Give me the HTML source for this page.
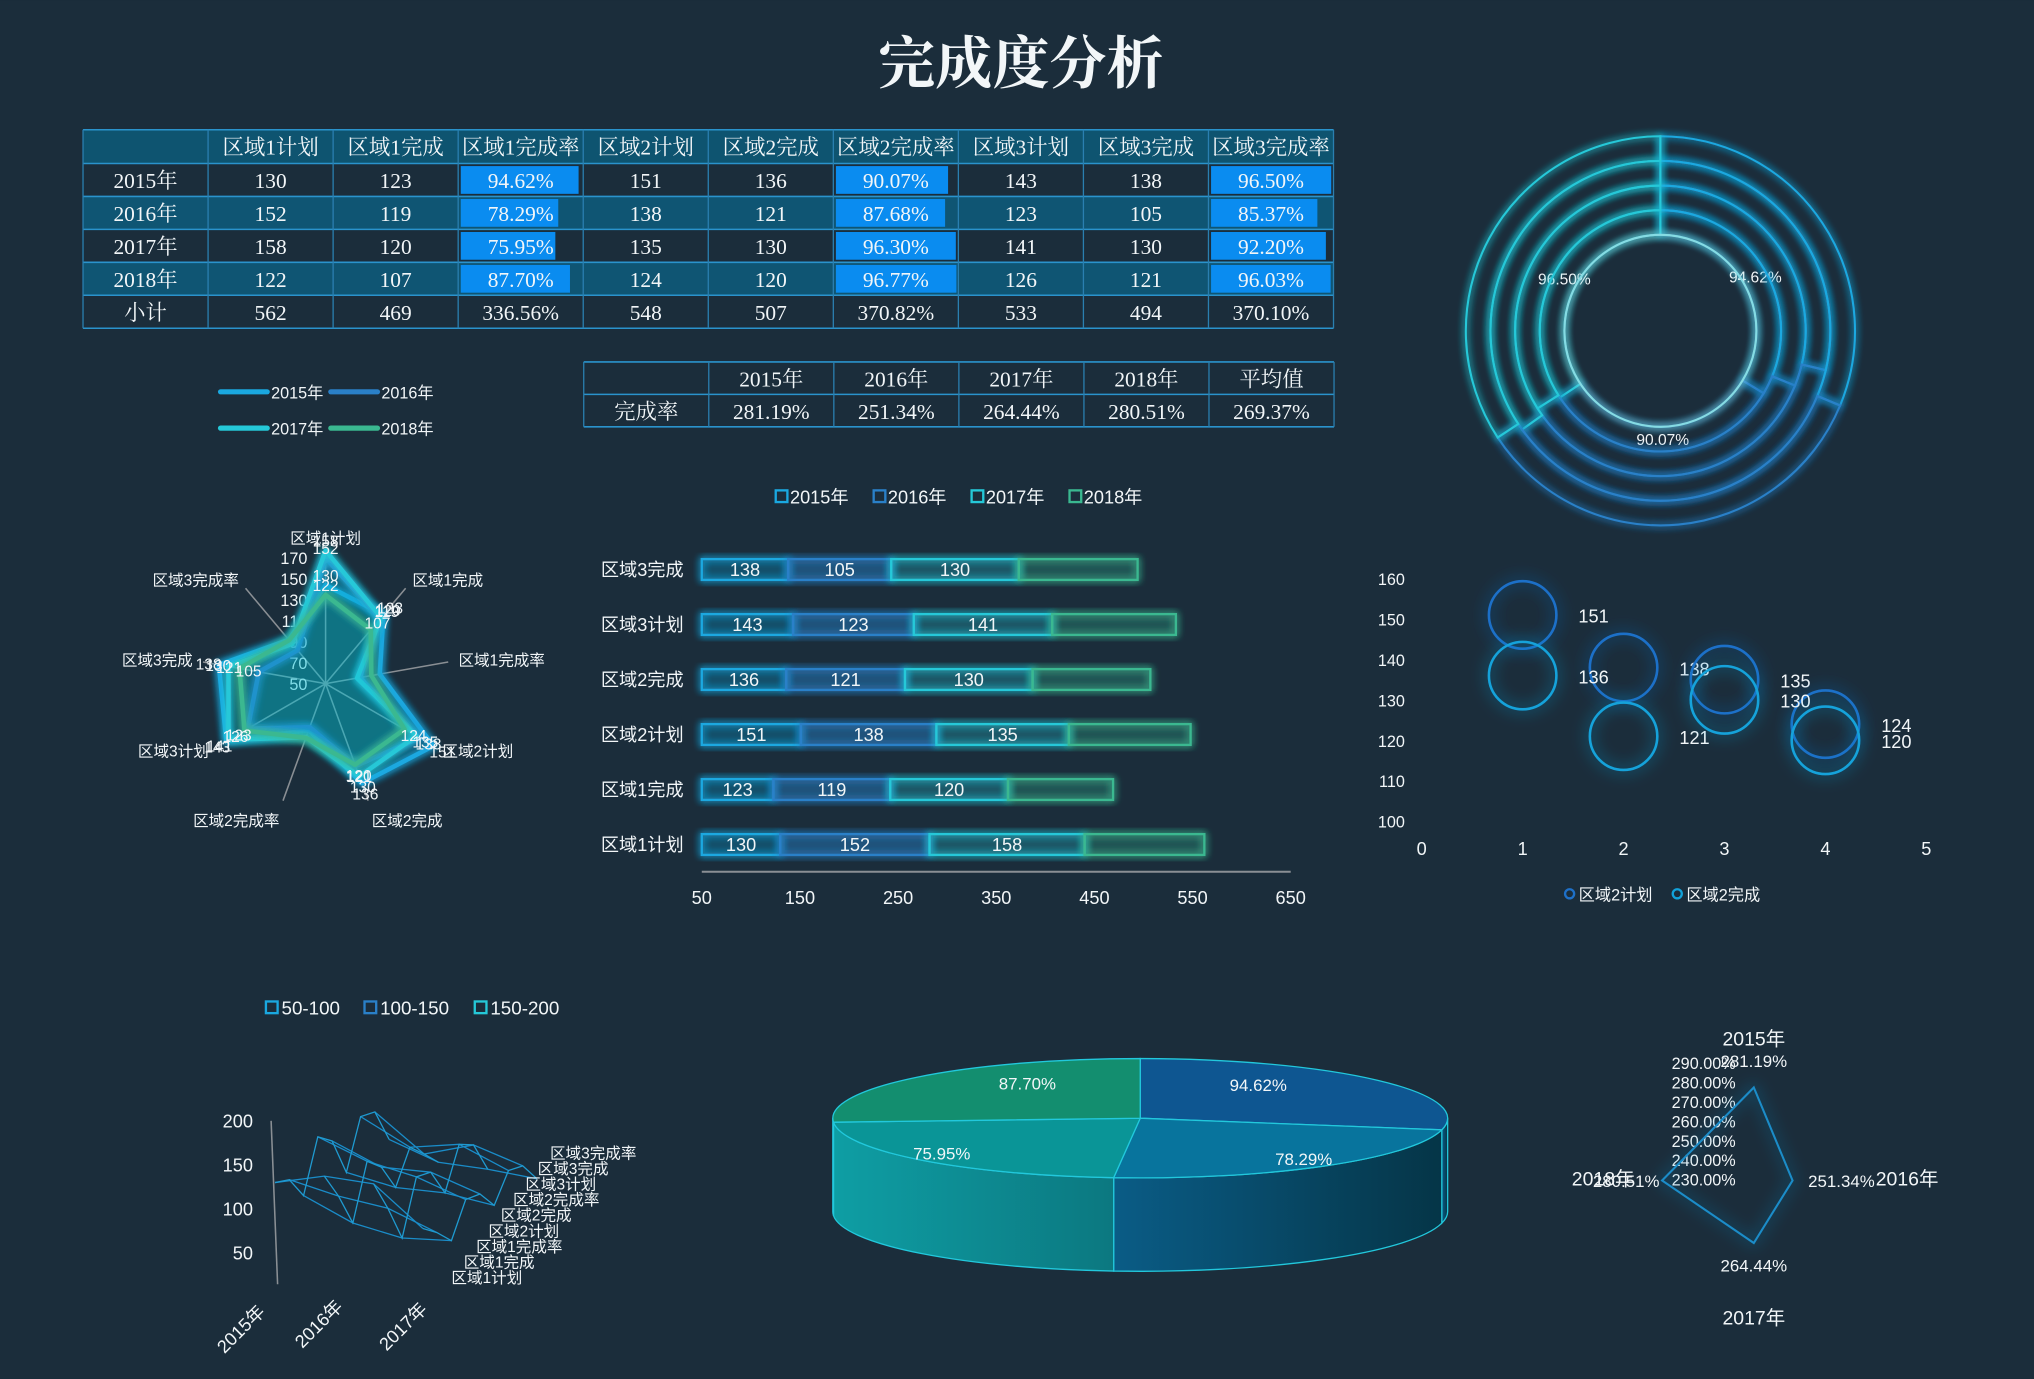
<!DOCTYPE html>
<html><head><meta charset="utf-8"><title>完成度分析</title>
<style>
html,body{margin:0;padding:0;background:#1b2d3b;}
svg{display:block;}
text{font-family:"Liberation Sans","Noto Sans CJK SC",sans-serif;fill:#f2f6f8;}
.serif{font-family:"Liberation Serif","Noto Serif CJK SC",serif;}
</style></head>
<body>
<svg id="s" xmlns="http://www.w3.org/2000/svg" viewBox="0 0 1568 1063" width="2034" height="1379">
<defs>
<filter id="glow" x="-30%" y="-30%" width="160%" height="160%"><feGaussianBlur stdDeviation="3" result="b"/><feMerge><feMergeNode in="b"/><feMergeNode in="b"/><feMergeNode in="SourceGraphic"/></feMerge></filter>
<filter id="glow2" x="-30%" y="-30%" width="160%" height="160%"><feGaussianBlur stdDeviation="6" result="b"/><feMerge><feMergeNode in="b"/><feMergeNode in="SourceGraphic"/></feMerge></filter>
<linearGradient id="sideR" x1="0" x2="1" y1="0" y2="0"><stop offset="0" stop-color="#0a5c86"/><stop offset="1" stop-color="#053547"/></linearGradient>
<linearGradient id="sideL" x1="0" x2="1" y1="0" y2="0"><stop offset="0" stop-color="#0e9ea4"/><stop offset="1" stop-color="#0c7880"/></linearGradient>
</defs>
<rect x="0" y="0" width="1568" height="1063" fill="#1b2d3b"/>
<text class="serif" x="787" y="64" font-size="44" font-weight="bold" text-anchor="middle">完成度分析</text>
</svg>
<script>
const NS='http://www.w3.org/2000/svg';
const svg=document.getElementById('s');
// ---------- data ----------
const years=['2015年','2016年','2017年','2018年'];
const cols=['区域1计划','区域1完成','区域1完成率','区域2计划','区域2完成','区域2完成率','区域3计划','区域3完成','区域3完成率'];
const r1plan=[130,152,158,122];
const r1done=[123,119,120,107];
const r1rate=[94.62,78.29,75.95,87.70];
const r2plan=[151,138,135,124];
const r2done=[136,121,130,120];
const r2rate=[90.07,87.68,96.30,96.77];
const r3plan=[143,123,141,126];
const r3done=[138,105,130,121];
const r3rate=[96.50,85.37,92.20,96.03];
const yearRate=[281.19,251.34,264.44,280.51];
const radarTicks=[50,70,90,110,130,150,170];
const barCats=['区域3完成','区域3计划','区域2完成','区域2计划','区域1完成','区域1计划'];
const barTicks=[50,150,250,350,450,550,650];
const bubbleXTicks=[0,1,2,3,4,5];
const bubbleYTicks=[100,110,120,130,140,150,160];
const surfTicks=[50,100,150,200];
const radar2Ticks=[230,240,250,260,270,280,290];
const yearColors=['#1aa8e0','#2a80c8','#25c8d8','#3ab890'];
const series=[r1plan,r1done,r1rate,r2plan,r2done,r2rate,r3plan,r3done,r3rate];

function mk(tag,a,p){const e=document.createElementNS(NS,tag);for(const k in a)e.setAttribute(k,a[k]);(p||svg).appendChild(e);return e;}
function tx(x,y,s,a,p){const e=mk('text',Object.assign({x:x,y:y},a||{}),p);e.textContent=s;return e;}
function grp(name){const g=mk('g',{});return g;}
const sum=a=>a.reduce((s,v)=>s+v,0);
const f2=v=>v.toFixed(2)+'%';

// ---------- table 1 ----------
(function(){
 const g=grp('data-table');
 const x0=64,cw=96.4,y0=100,hh=26,rh=25.4;
 const rows=years.map((y,i)=>[y].concat(series.map(s=>s[i])));
 rows.push(['小计'].concat(series.map(s=>sum(s))));
 let e=mk('rect',{x:x0,y:y0,width:cw*10,height:hh,fill:'#0e5470'},g);
 
 
 ['',...cols].forEach((c,j)=>{
  e=tx(x0+cw*j+cw/2,y0+19,c,{'font-size':16.5,'text-anchor':'middle',class:'serif'},g);
  
  
 });
 rows.forEach((r,i)=>{
  const y=y0+hh+i*rh;
  if(i===1||i===3){
   e=mk('rect',{x:x0,y:y,width:cw*10,height:rh,fill:'#0f5573'},g);
   
   
  }
  r.forEach((v,j)=>{
   const isRate=(j===3||j===6||j===9);
   let s=v;
   if(isRate) s=f2(v); else if(typeof v==='number') s=String(v);
   if(isRate&&i<4){
    e=mk('rect',{x:x0+cw*j+2,y:y+2,width:v*0.96,height:rh-4,fill:'#0a8cf0'},g);
    
    
   }
   e=tx(x0+cw*j+cw/2,y+19,s,{'font-size':16.5,'text-anchor':'middle',class:'serif'},g);
   
   
  });
 });
 const nrow=rows.length;
 for(let i=0;i<=nrow+1;i++){
  const y=i===0?y0:y0+hh+(i-1)*rh;
  e=mk('line',{x1:x0,x2:x0+cw*10,y1:y,y2:y,stroke:'#2a93cc','stroke-width':1.2},g);
  
  
 }
 for(let j=0;j<=10;j++){
  e=mk('line',{x1:x0+cw*j,x2:x0+cw*j,y1:y0,y2:y0+hh+nrow*rh,stroke:'#2a7fb0','stroke-width':1},g);
  
  
 }
})();

// ---------- table 2 ----------
(function(){
 const g=grp('yearly-rate-table');
 const x0=450,cw=96.4,y0=279,rh=25;
 const head=['',...years,'平均值'];
 const avg=sum(yearRate)/yearRate.length;
 const row=['完成率',...yearRate.map(f2),f2(avg)];
 let e;
 [head,row].forEach((r,i)=>{
  r.forEach((s,j)=>{
   e=tx(x0+cw*j+cw/2,y0+i*rh+19,s,{'font-size':16.5,'text-anchor':'middle',class:'serif'},g);
   
   
  });
 });
 for(let i=0;i<=2;i++){
  e=mk('line',{x1:x0,x2:x0+cw*6,y1:y0+i*rh,y2:y0+i*rh,stroke:'#2a93cc','stroke-width':1.2},g);
  
  
 }
 for(let j=0;j<=6;j++){
  e=mk('line',{x1:x0+cw*j,x2:x0+cw*j,y1:y0,y2:y0+2*rh,stroke:'#2a7fb0','stroke-width':1},g);
  
  
 }
})();

// ---------- radar 1 ----------
(function(){
 const g=grp('region-radar-chart');
 const cx=251,cy=527;
 const rr=v=>Math.max(0,(v-50)*0.95);
 const tr=v=>(v-50)*0.81;
 const pt=(r,a)=>[cx+r*Math.sin(a*Math.PI/180),cy-r*Math.cos(a*Math.PI/180)];
 let e;
 years.forEach((y,i)=>{
  const lx=170+(i%2)*85, ly=302+Math.floor(i/2)*28;
  e=mk('line',{x1:lx,x2:lx+36,y1:ly,y2:ly,stroke:yearColors[i],'stroke-width':4,'stroke-linecap':'round'},g);
  
  
  e=tx(lx+39,ly+5,y,{'font-size':12.5},g);
  
  
 });
 cols.forEach((c,k)=>{
  const a=k*40;
  const p=pt(96,a);
  e=mk('line',{x1:cx,y1:cy,x2:p[0],y2:p[1],stroke:'#8a8f94','stroke-width':1.2},g);
  
  
  const q=pt(104,a);
  const s=Math.sin(a*Math.PI/180);
  const anchor=Math.abs(s)<0.2?'middle':(s>0?'start':'end');
  let dy=4; if(a===0) dy=-4;
  if(a===160||a===200) dy=12;
  e=tx(q[0],q[1]+dy,c,{'font-size':12,'text-anchor':anchor},g);
  
  
 });
 radarTicks.forEach(t=>{
  e=tx(cx-14,cy-tr(t)+5,String(t),{'font-size':12.5,'text-anchor':'end'},g);
  
  
 });
 years.forEach((y,i)=>{
  const pts=series.map((s,k)=>pt(rr(s[i]),k*40));
  e=mk('polygon',{points:pts.map(p=>p.join(',')).join(' '),fill:'rgba(37,200,216,0.05)',stroke:yearColors[i],'stroke-width':3.5,'stroke-linejoin':'round',filter:'url(#glow)'},g);
  
  
 });
 years.forEach((y,i)=>{
  series.forEach((s,k)=>{
   if(k%3===2) return;
   const p=pt(rr(s[i])+8,k*40);
   e=tx(p[0],p[1]+5,String(s[i]),{'font-size':12,'text-anchor':'middle'},g);
   
   
  });
 });
})();

// ---------- donut ----------
(function(){
 const g=grp('rate-ring-chart');
 const cx=1280,cy=255;
 const radii=[74,93,112,131,150];
 const segColors=['#1aa8e0','#2a80c8','#25c8d8'];
 const pt=(r,a)=>[cx+r*Math.sin(a*Math.PI/180),cy-r*Math.cos(a*Math.PI/180)];
 let e;
 years.forEach((y,i)=>{
  const vals=[r1rate[i],r2rate[i],r3rate[i]];
  const tot=sum(vals);
  let a0=0;
  vals.forEach((v,k)=>{
   const a1=a0+v/tot*360;
   const ri=radii[i],ro=radii[i+1];
   const lg=(a1-a0)>180?1:0;
   const p1=pt(ro,a0),p2=pt(ro,a1),p3=pt(ri,a1),p4=pt(ri,a0);
   const d=`M${p1} A${ro},${ro} 0 ${lg} 1 ${p2} L${p3} A${ri},${ri} 0 ${lg} 0 ${p4} Z`;
   e=mk('path',{d:d,fill:'none',stroke:segColors[k],'stroke-width':1.6,filter:'url(#glow)'},g);
   
   
   if(i===0){
    const m=pt(radii[0]+10,(a0+a1)/2);
    e=tx(m[0],m[1]+4,f2(v),{'font-size':12,'text-anchor':'middle'},g);
    
    
   }
   a0=a1;
  });
 });
 e=mk('circle',{cx:cx,cy:cy,r:radii[0],fill:'none',stroke:'#86dbe3','stroke-width':1.6,filter:'url(#glow)'},g);
 
 
})();

// ---------- stacked bar ----------
(function(){
 const g=grp('stacked-bar-chart');
 const xs=v=>541+(v-50)*454/600;
 const yc=i=>439+i*42.4;
 const catVals=[[138,143,136,151,123,130],[105,123,121,138,119,152],[130,141,130,135,120,158],[121,126,120,124,107,122]];
 const fills=['rgba(26,168,224,0.10)','rgba(42,128,200,0.18)','rgba(37,200,216,0.10)','rgba(58,184,144,0.10)'];
 let e;
 years.forEach((y,i)=>{
  const lx=598+i*75.5;
  e=mk('rect',{x:lx,y:378,width:9,height:9,fill:'none',stroke:yearColors[i],'stroke-width':1.8},g);
  
  
  e=tx(lx+11,388,y,{'font-size':14},g);
  
  
 });
 barCats.forEach((c,j)=>{
  e=tx(527,yc(j)+5,c,{'font-size':14,'text-anchor':'end'},g);
  
  
  let cum=0;
  catVals.forEach((vals,i)=>{
   const v=vals[j];
   const x1=xs(Math.max(cum,50)),x2=xs(cum+v);
   e=mk('rect',{x:x1,y:yc(j)-8,width:x2-x1,height:16,fill:fills[i],stroke:yearColors[i],'stroke-width':1.8,filter:'url(#glow)'},g);
   
   
   if(i<3){
    e=tx((x1+x2)/2,yc(j)+5,String(v),{'font-size':14,'text-anchor':'middle'},g);
    
    
   }
   cum+=v;
  });
 });
 e=mk('line',{x1:xs(50),x2:xs(650),y1:672,y2:672,stroke:'#8a8f94','stroke-width':1.5},g);
 
 
 barTicks.forEach(t=>{
  e=tx(xs(t),697,String(t),{'font-size':14,'text-anchor':'middle'},g);
  
  
 });
})();

// ---------- bubble ----------
(function(){
 const g=grp('bubble-chart');
 const xb=v=>1096+v*77.8;
 const yb=v=>633-(v-100)*3.117;
 let e;
 bubbleXTicks.forEach(t=>{
  e=tx(xb(t),659,String(t),{'font-size':14,'text-anchor':'middle'},g);
  
  
 });
 bubbleYTicks.forEach(t=>{
  e=tx(1083,yb(t)+5,String(t),{'font-size':12.5,'text-anchor':'end'},g);
  
  
 });
 [[r2plan,'#1e70c8','区域2计划'],[r2done,'#12a2da','区域2完成']].forEach((sd,si)=>{
  sd[0].forEach((v,i)=>{
   e=mk('circle',{cx:xb(i+1),cy:yb(v),r:26,fill:'none',stroke:sd[1],'stroke-width':2,filter:'url(#glow2)'},g);
   
   
   e=tx(xb(i+1)+43,yb(v)+6,String(v),{'font-size':14},g);
   
   
  });
  const lx=1210+si*83;
  e=mk('circle',{cx:lx,cy:689,r:3.5,fill:'none',stroke:sd[1],'stroke-width':1.8},g);
  
  
  e=tx(lx+7,694,sd[2],{'font-size':12.5},g);
  
  
 });
})();

// ---------- 3D surface wireframe ----------
(function(){
 const g=grp('surface-chart');
 const vy=v=>(Math.max(v,50)-50)*0.68;
 const P=(yi,si,v)=>[212+yi*38+si*11,966-vy(v)-si*7+yi*10];
 let e;
 [['50-100','#1aa8e0'],['100-150','#2a80c8'],['150-200','#25c8d8']].forEach((l,i)=>{
  const lx=[205,281,366][i];
  e=mk('rect',{x:lx,y:772,width:9,height:9,fill:'none',stroke:l[1],'stroke-width':1.8},g);
  
  
  e=tx(lx+12,782,l[0],{'font-size':14.5},g);
  
  
 });
 e=mk('line',{x1:209,y1:864,x2:214,y2:990,stroke:'#8a8f94','stroke-width':1.2},g);
 
 
 surfTicks.forEach(t=>{
  e=tx(195,966-vy(t)+5,String(t),{'font-size':14,'text-anchor':'end'},g);
  
  
 });
 series.forEach((s,si)=>{
  const pts=years.map((y,yi)=>P(yi,si,s[yi]));
  e=mk('polyline',{points:pts.map(p=>p.join(',')).join(' '),fill:'none',stroke:'#1a8cc8','stroke-width':1},g);
  
  
 });
 years.forEach((y,yi)=>{
  const pts=series.map((s,si)=>P(yi,si,s[yi]));
  e=mk('polyline',{points:pts.map(p=>p.join(',')).join(' '),fill:'none',stroke:'#1f9ad0','stroke-width':1},g);
  
  
 });
 years.slice(0,3).forEach((y,yi)=>{
  const x=[205,265,330][yi],yy=[1012,1008,1010][yi];
  e=tx(x,yy,y,{'font-size':14,'text-anchor':'end',transform:`rotate(-45 ${x} ${yy})`},g);
  
  
 });
 cols.forEach((c,si)=>{
  e=tx(348+si*9.5,989-si*12,c,{'font-size':12},g);
  
  
 });
})();

// ---------- 3D pie ----------
(function(){
 const g=grp('pie-3d-chart');
 const cx=879,cy=862,rx=237,ry=46,h=72;
 const vals=[r1rate[0],r1rate[1],r1rate[2],r1rate[3]];
 const topC=['#0e5896','#0778a2','#0a9b9c','#139372'];
 const sideC=['url(#sideR)','url(#sideR)','url(#sideL)','url(#sideL)'];
 const T=a=>[cx+rx*Math.sin(a*Math.PI/180),cy-ry*Math.cos(a*Math.PI/180)];
 const B=a=>[cx+rx*Math.sin(a*Math.PI/180),cy-ry*Math.cos(a*Math.PI/180)+h];
 const tot=sum(vals);
 const ang=[0];vals.forEach(v=>ang.push(ang[ang.length-1]+v/tot*360));
 let e;
 vals.forEach((v,i)=>{
  const a=Math.max(ang[i],90),b=Math.min(ang[i+1],270);
  if(b<=a) return;
  const d=`M${T(a)} A${rx},${ry} 0 0 1 ${T(b)} L${B(b)} A${rx},${ry} 0 0 0 ${B(a)} Z`;
  e=mk('path',{d:d,fill:sideC[i],stroke:'#22c8dc','stroke-width':1},g);
  
  
 });
 const lpos=[[970,841],[1005,898],[726,894],[792,840]];
 vals.forEach((v,i)=>{
  const a=ang[i],b=ang[i+1];
  const lg=(b-a)>180?1:0;
  e=mk('path',{d:`M${cx},${cy} L${T(a)} A${rx},${ry} 0 ${lg} 1 ${T(b)} Z`,fill:topC[i],stroke:'#22c8dc','stroke-width':1,'fill-opacity':0.95},g);
  
  
  e=tx(lpos[i][0],lpos[i][1],f2(v),{'font-size':13,'text-anchor':'middle'},g);
  
  
 });
})();

// ---------- radar 2 ----------
(function(){
 const g=grp('yearly-rate-radar');
 const cx=1352,cy=910;
 const rr=v=>(v-230)*1.4;
 const pt=(r,a)=>[cx+r*Math.sin(a*Math.PI/180),cy-r*Math.cos(a*Math.PI/180)];
 let e;
 const lab=[[1352,806,'middle'],[1446,914,'start'],[1352,1021,'middle'],[1260,914,'end']];
 years.forEach((y,i)=>{
  e=tx(lab[i][0],lab[i][1],y,{'font-size':15,'text-anchor':lab[i][2]},g);
  
  
 });
 radar2Ticks.forEach(t=>{
  e=tx(1338,914-(t-230)*1.5,t.toFixed(2)+'%',{'font-size':12.5,'text-anchor':'end'},g);
  
  
 });
 const pts=yearRate.map((v,i)=>pt(rr(v),i*90));
 e=mk('polygon',{points:pts.map(p=>p.join(',')).join(' '),fill:'none',stroke:'#1a8cc8','stroke-width':1.6,filter:'url(#glow2)'},g);
 
 
 const off=[[0,-16,'middle'],[12,5,'start'],[0,22,'middle'],[-2,5,'end']];
 yearRate.forEach((v,i)=>{
  const p=pts[i];
  e=tx(p[0]+off[i][0],p[1]+off[i][1],f2(v),{'font-size':13,'text-anchor':off[i][2]},g);
  
  
 });
})();
</script>
</body></html>
